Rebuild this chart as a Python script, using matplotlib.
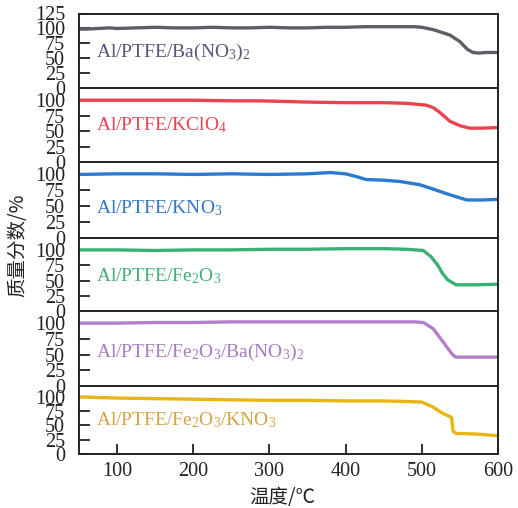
import matplotlib
matplotlib.use("Agg")
import matplotlib.pyplot as plt
import numpy as np

plt.rcParams['font.family'] = ['Liberation Serif', 'DejaVu Serif']
plt.rcParams['mathtext.fontset'] = 'custom'
plt.rcParams['mathtext.rm'] = 'Liberation Serif'
plt.rcParams['mathtext.it'] = 'Liberation Serif'
plt.rcParams['mathtext.default'] = 'regular'

# ---- data ----
labels = ["Al/PTFE/Ba(NO$_3$)$_2$", "Al/PTFE/KClO$_4$", "Al/PTFE/KNO$_3$",
          "Al/PTFE/Fe$_2$O$_3$", "Al/PTFE/Fe$_2$O$_3$/Ba(NO$_3$)$_2$",
          "Al/PTFE/Fe$_2$O$_3$/KNO$_3$"]

x_ba = [50, 60, 75, 90, 100, 125, 150, 175, 200, 225, 250, 275, 300, 325, 350, 375,
        400, 425, 450, 475, 490, 500, 515, 537, 550, 560, 567, 575, 585, 600]
y_ba = [99, 99, 100, 101, 100, 101, 102, 101, 101, 102, 101, 101, 102, 101, 101, 102,
        102, 103, 103, 103, 103, 102, 98, 89, 78, 65, 60, 59, 60, 60]

x_kcl = [50, 100, 150, 200, 250, 287, 320, 350, 400, 450, 480, 506, 515, 524, 537,
         550, 563, 580, 600]
y_kcl = [100, 100, 100, 100, 99, 99, 98, 97, 96, 96, 95, 92, 88, 80, 66,
         59, 55, 55, 56]

x_kno = [50, 100, 150, 200, 250, 300, 350, 380, 400, 413, 427, 450, 471, 497, 515,
         537, 559, 580, 600]
y_kno = [100, 101, 101, 100, 101, 100, 101, 103, 101, 97, 92, 91, 89, 84, 77,
         68, 60, 60, 61]

x_fe = [50, 100, 150, 200, 250, 300, 350, 400, 450, 480, 502, 512, 521, 527, 534,
        545, 571, 600]
y_fe = [100, 100, 99, 100, 100, 101, 101, 102, 102, 101, 99, 89, 75, 62, 51,
        43, 43, 44]

x_feba = [50, 100, 150, 200, 250, 300, 350, 400, 450, 490, 502, 515, 525, 534, 541,
          545, 570, 600]
y_feba = [100, 100, 101, 101, 102, 102, 102, 102, 102, 102, 101, 91, 75, 60, 49,
          46, 46, 46]

x_fekno = [50, 75, 100, 150, 200, 250, 300, 350, 400, 450, 480, 500, 515, 525, 536,
           539, 541, 545, 571, 600]
y_fekno = [100, 99, 98, 97, 96, 95, 94, 94, 93, 93, 92, 91, 82, 73, 66,
           64, 40, 36, 35, 32]

series_x = [x_ba, x_kcl, x_kno, x_fe, x_feba, x_fekno]
series_y = [y_ba, y_kcl, y_kno, y_fe, y_feba, y_fekno]
label_y = [52, 52, 39, 48, 47, 51]

line_colors = ['#5a5e66', '#e84450', '#2a7ad0', '#3cb074', '#b37ecb', '#e8b512']
text_colors = ['#55577a', '#e84450', '#3278c4', '#45ae78', '#a87bc2', '#d6a246']

xticks = [100, 200, 300, 400, 500, 600]
yticks_top = [0, 25, 50, 75, 100, 125]
yticks = [0, 25, 50, 75, 100]

fig = plt.figure(figsize=(5.18, 5.08), dpi=100)
gs = fig.add_gridspec(6, 1, height_ratios=[75, 74, 76, 73, 75, 68], hspace=0,
                      left=79/518, right=498/518, top=1-13.5/508, bottom=1-454/508)

for i in range(6):
    ax = fig.add_subplot(gs[i])
    ax.plot(series_x[i], series_y[i], color=line_colors[i], lw=2.4, solid_capstyle='round')
    ax.set_xlim(50, 600)
    if i == 0:
        ax.set_ylim(0, 125)
        ax.set_yticks(yticks_top)
    else:
        ax.set_ylim(0, 119)
        ax.set_yticks(yticks)
    ax.set_xticks(xticks)
    ax.tick_params(axis='y', direction='in', length=8, width=1.3, pad=10,
                   labelsize=14.5, colors='#222222')
    ax.tick_params(axis='x', direction='in', length=7, width=1.3, pad=6,
                   labelsize=14.5, colors='#222222')
    if i < 5:
        ax.tick_params(axis='x', bottom=False, labelbottom=False)
    for s in ax.spines.values():
        s.set_linewidth(1.4)
        s.set_color('#222222')
    ax.text(72, label_y[i], labels[i], color=text_colors[i], fontsize=14,
            ha='left', va='baseline')

fig.text(0.545, 1-498/508, "温度/℃", ha='center', va='center', fontsize=14,
         family=['Noto Sans CJK SC', 'DejaVu Sans'], color='#222222')
fig.text(18/518, 1-245/508, "质量分数/%", ha='center', va='center', fontsize=14,
         rotation=90, family=['Noto Sans CJK SC', 'DejaVu Sans'], color='#222222')

fig.savefig("out.png", dpi=100)
